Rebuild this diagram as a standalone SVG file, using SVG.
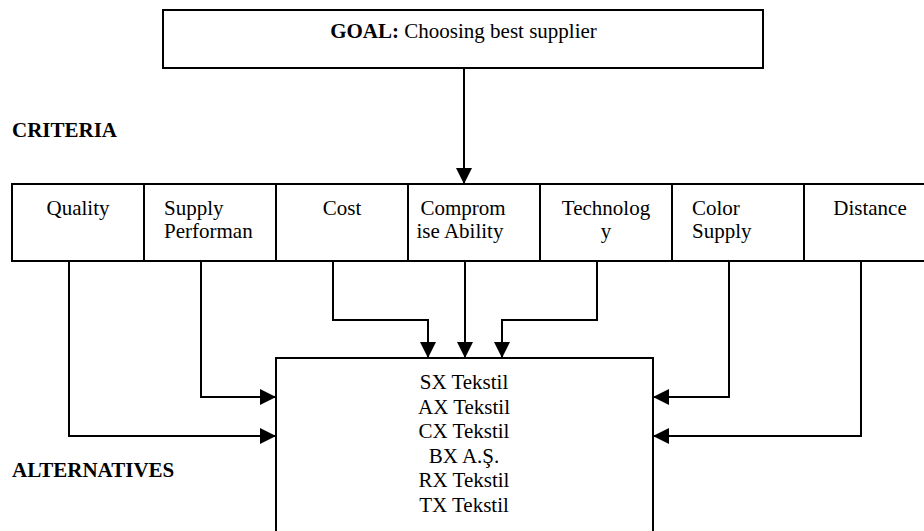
<svg xmlns="http://www.w3.org/2000/svg" width="924" height="531" viewBox="0 0 924 531">
<style>
.box{fill:#fff;stroke:#000;stroke-width:2}
.t{font-family:'Liberation Serif','Times New Roman',serif;font-size:21px;fill:#000}
.c{text-anchor:middle}
.b{font-weight:bold}
.conn{fill:none;stroke:#000;stroke-width:2}
</style>
<defs>
<marker id="ah" markerUnits="userSpaceOnUse" markerWidth="16" markerHeight="16" refX="16" refY="8" orient="auto">
<path d="M0,0 L16,8 L0,16 z" fill="#000"/>
</marker>
</defs>
<rect width="924" height="531" fill="#fff"/>
<g id="goal">
<rect class="box" x="163" y="10" width="600" height="58"/>
<text class="t c" x="463.5" y="38"><tspan class="b">GOAL:</tspan> Choosing best supplier</text>
</g>
<g id="label-criteria"><text class="t b" x="12" y="137">CRITERIA</text></g>
<g id="label-alternatives"><text class="t b" x="12" y="477">ALTERNATIVES</text></g>
<g id="quality">
<rect class="box" x="12" y="184" width="132" height="77"/>
<text class="t c" x="78" y="215">Quality</text>
</g>
<g id="supply-performance">
<rect class="box" x="144" y="184" width="132" height="77"/>
<text class="t" x="164" y="215">Supply</text>
<text class="t" x="164" y="238">Performan</text>
</g>
<g id="cost">
<rect class="box" x="276" y="184" width="132" height="77"/>
<text class="t c" x="342" y="215">Cost</text>
</g>
<g id="compromise">
<rect class="box" x="408" y="184" width="132" height="77"/>
<text class="t c" x="463" y="215">Comprom</text>
<text class="t c" x="460" y="238">ise Ability</text>
</g>
<g id="technology">
<rect class="box" x="540" y="184" width="132" height="77"/>
<text class="t c" x="606" y="215">Technolog</text>
<text class="t c" x="606" y="238">y</text>
</g>
<g id="color-supply">
<rect class="box" x="672" y="184" width="132" height="77"/>
<text class="t" x="692" y="215">Color</text>
<text class="t" x="692" y="238">Supply</text>
</g>
<g id="distance">
<rect class="box" x="804" y="184" width="132" height="77"/>
<text class="t c" x="870" y="215">Distance</text>
</g>
<g id="alternatives">
<rect class="box" x="276" y="358" width="377" height="190"/>
<text class="t c" x="464" y="389">SX Tekstil</text>
<text class="t c" x="464" y="414">AX Tekstil</text>
<text class="t c" x="464" y="438">CX Tekstil</text>
<text class="t c" x="464" y="463">BX A.Ş.</text>
<text class="t c" x="464" y="487">RX Tekstil</text>
<text class="t c" x="464" y="512">TX Tekstil</text>
</g>
<g id="connectors">
<path class="conn" d="M464,68 V184" marker-end="url(#ah)"/>
<path class="conn" d="M69,261 V436 H276" marker-end="url(#ah)"/>
<path class="conn" d="M201,261 V397 H276" marker-end="url(#ah)"/>
<path class="conn" d="M333,261 V320 H428 V358" marker-end="url(#ah)"/>
<path class="conn" d="M465,261 V358" marker-end="url(#ah)"/>
<path class="conn" d="M597,261 V320 H502 V358" marker-end="url(#ah)"/>
<path class="conn" d="M729,261 V397 H653" marker-end="url(#ah)"/>
<path class="conn" d="M861,261 V436 H653" marker-end="url(#ah)"/>
</g>
</svg>
